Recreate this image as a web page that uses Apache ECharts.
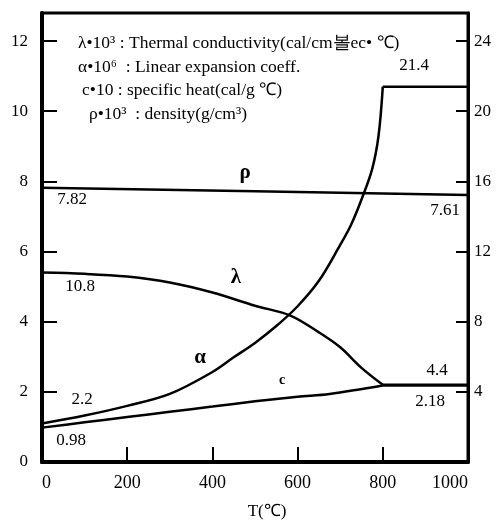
<!DOCTYPE html>
<html>
<head>
<meta charset="utf-8">
<script src="https://cdn.jsdelivr.net/npm/echarts@6/dist/echarts.min.js"></script>
<style>
  html, body { margin: 0; padding: 0; background: #fff; }
  #chart { width: 502px; height: 523px; }
</style>
</head>
<body>
<div id="chart"></div>
<script>
// values, [T (°C), value]
// left axis: c*10, rho*10^3 ; right axis: lambda*10^3, alpha*10^6
const lambdaPts = [[0, 10.8], [100, 10.73], [200, 10.57], [300, 10.23], [400, 9.66], [500, 8.91],
  [583, 8.35], [650, 7.39], [700, 6.54], [750, 5.37], [800, 4.4], [1000, 4.4]]
const alphaPts = [[0, 2.2], [100, 2.65], [200, 3.2], [300, 3.88], [400, 5.13], [450, 5.97], [500, 6.79],
  [550, 7.75], [600, 8.88], [650, 10.33], [700, 12.38], [725, 13.5], [750, 14.97], [775, 16.7],
  [790, 18.6], [800, 21.4], [1000, 21.4]]
const heatPts = [[0, 0.98], [100, 1.13], [200, 1.28], [300, 1.43], [400, 1.58], [500, 1.73],
  [600, 1.86], [675, 1.94], [800, 2.18], [1000, 2.18]]
const densityPts = [[0, 7.82], [500, 7.72], [1000, 7.61]]
const breakT = 800

const legendLines = [
  'λ•10³ : Thermal conductivity(cal/cm볼ec• ℃)',
  'α•10⁶  : Linear expansion coeff.',
  'c•10 : specific heat(cal/g ℃)',
  'ρ•10³  : density(g/cm³)'
]

const serif = '"Liberation Serif", "Times New Roman", serif'
const chart = echarts.init(document.getElementById('chart'))

function txt(text, x, y, font, align) {
  return {
    type: 'text',
    x: x,
    y: y,
    silent: true,
    style: {
      text: text,
      font: font,
      fill: '#000',
      align: align || 'center',
      textAlign: align || 'center',
      verticalAlign: 'middle',
      textVerticalAlign: 'middle'
    }
  }
}

function line(name, data, axis, smooth) {
  return {
    name: name,
    type: 'line',
    yAxisIndex: axis,
    data: data,
    symbol: 'none',
    smooth: smooth,
    lineStyle: { color: '#000', width: 2.5 }
  }
}

// curves are smoothed up to the break at 800 °C, flat after it
function split(name, pts, axis) {
  return [
    line(name, pts.filter((p) => p[0] <= breakT), axis, 0.35),
    line(name, pts.filter((p) => p[0] >= breakT), axis, false)
  ]
}

const num = '17px ' + serif
const legendFont = '17.5px ' + serif
const greek = 'bold 21px ' + serif

chart.setOption({
  animation: false,
  backgroundColor: '#fff',
  grid: {
    left: 42, right: 34, top: 13, bottom: 61,
    show: true, borderColor: '#000', borderWidth: 3,
    outerBoundsMode: 'none'
  },
  xAxis: {
    type: 'value',
    min: 0, max: 1000, interval: 200,
    name: 'T(℃)',
    nameLocation: 'middle',
    nameGap: 41,
    nameTextStyle: { color: '#000', fontFamily: serif, fontSize: 17, padding: [0, 0, 0, 24] },
    axisLine: { show: true, lineStyle: { color: '#000', width: 4 } },
    axisTick: { show: true, inside: true, length: 15, lineStyle: { color: '#000', width: 2 } },
    axisLabel: {
      color: '#000', fontFamily: serif, fontSize: 18, margin: 12,
      alignMinLabel: 'left', alignMaxLabel: 'right',
      formatter: (v) => String(v)
    },
    splitLine: { show: false }
  },
  yAxis: [
    {
      type: 'value',
      min: 0, max: 12.8, interval: 2,
      axisLine: { show: true, lineStyle: { color: '#000', width: 4 } },
      axisTick: { show: true, inside: true, length: 15, lineStyle: { color: '#000', width: 2 } },
      axisLabel: {
        color: '#000', fontFamily: serif, fontSize: 17, margin: 14,
        formatter: (v) => (v % 2 === 0 ? String(v) : '')
      },
      splitLine: { show: false }
    },
    {
      type: 'value',
      position: 'right',
      min: 0, max: 25.6, interval: 4,
      axisLine: { show: true, lineStyle: { color: '#000', width: 3 } },
      axisTick: { show: true, inside: true, length: 12, lineStyle: { color: '#000', width: 2 } },
      axisLabel: {
        color: '#000', fontFamily: serif, fontSize: 17, margin: 6,
        formatter: (v) => (v % 4 === 0 && v > 0 ? String(v) : '')
      },
      splitLine: { show: false }
    }
  ],
  series: [
    ...split('λ', lambdaPts, 1),
    ...split('α', alphaPts, 1),
    ...split('c', heatPts, 0),
    line('ρ', densityPts, 0, false)
  ],
  graphic: [
    txt(legendLines[0], 78, 43, legendFont, 'left'),
    txt(legendLines[1], 78, 67, legendFont, 'left'),
    txt(legendLines[2], 82, 90, legendFont, 'left'),
    txt(legendLines[3], 89, 114, legendFont, 'left'),
    txt('21.4', 414, 66, num),
    txt('ρ', 245, 173, greek),
    txt('7.82', 72, 200, num),
    txt('7.61', 445, 211, num),
    txt('λ', 236, 278, greek),
    txt('10.8', 80, 287, num),
    txt('α', 200, 358, greek),
    txt('c', 282, 380, 'bold 14px ' + serif),
    txt('4.4', 437, 371, num),
    txt('2.18', 430, 402, num),
    txt('2.2', 82, 400, num),
    txt('0.98', 71, 441, num)
  ]
})
</script>
</body>
</html>
